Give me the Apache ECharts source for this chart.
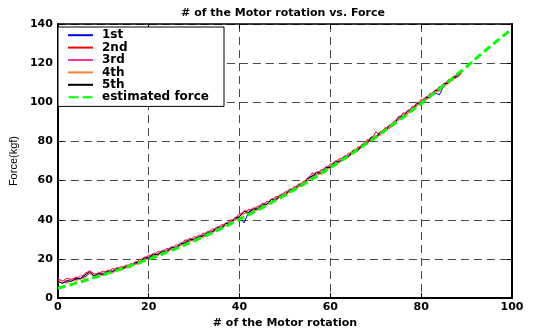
<!DOCTYPE html>
<html>
<head>
<meta charset="utf-8">
<script src="https://cdn.jsdelivr.net/npm/echarts@6/dist/echarts.min.js"></script>
<style>html,body{margin:0;padding:0;background:#fff;}#c{width:534px;height:334px;}</style>
</head>
<body>
<div id="c"></div>
<script>
var rotations = [0,1,2,3,4,5,6,7,8,9,10,11,12,13,14,15,16,17,18,19,20,21,22,23,24,25,26,27,28,29,30,31,32,33,34,35,36,37,38,39,40,41,42,43,44,45,46,47,48,49,50,51,52,53,54,55,56,57,58,59,60,61,62,63,64,65,66,67,68,69,70,71,72,73,74,75,76,77,78,79,80,81,82,83,84,85,86,87,88,89];
var run1st = [8.2,7.8,8.1,8.8,9.5,10.1,11.0,12.6,11.4,11.8,12.4,13.0,13.7,14.3,15.0,15.6,16.4,17.3,18.4,19.6,20.7,21.6,22.4,23.2,24.0,25.0,25.8,26.9,28.3,29.2,30.0,30.8,31.8,32.8,34.0,35.0,36.1,37.2,38.5,39.8,41.4,38.4,43.9,44.8,45.7,47.0,48.1,49.3,50.5,51.6,52.8,54.3,55.5,56.9,58.1,60.1,62.3,63.1,64.2,65.7,67.1,68.6,69.9,71.1,72.6,74.2,75.7,77.3,79.2,81.0,82.1,83.7,85.5,87.1,88.9,91.2,93.1,94.5,96.3,98.3,100.1,101.4,103.0,104.9,103.8,108.3,110.2,111.7,113.4,115.0];
var run2nd = [9.9,8.6,10.1,9.4,10.8,10.0,12.7,13.9,12.4,12.5,13.8,13.4,15.0,14.6,16.2,15.6,17.6,17.4,19.8,19.9,22.0,21.6,23.8,23.2,25.4,25.0,27.2,26.8,29.8,29.1,31.4,30.6,33.3,32.6,35.4,34.9,37.6,37.0,40.0,39.6,43.2,43.1,45.4,44.6,47.1,46.8,49.5,49.0,52.0,51.4,54.3,54.1,57.0,56.6,59.6,59.9,64.0,62.8,65.7,65.2,68.6,68.2,71.4,70.6,74.1,73.8,77.2,76.9,80.8,80.6,84.9,83.2,87.0,86.6,90.4,90.8,94.6,94.0,97.8,97.8,101.6,100.9,104.6,104.4,108.1,107.9,111.7,111.2,115.0,114.6];
var run3rd = [9.2,9.0,8.7,10.1,9.9,11.4,11.6,14.0,12.0,13.1,12.8,14.3,14.0,15.6,15.3,16.9,16.8,18.6,18.9,21.0,21.3,22.9,22.8,24.5,24.6,26.3,26.2,28.2,28.9,30.5,30.4,32.1,32.4,34.1,34.5,36.4,36.7,38.5,39.1,41.2,42.4,44.7,44.5,46.1,46.3,48.4,48.6,50.7,51.1,53.0,53.5,55.7,56.1,58.3,58.8,61.6,63.2,64.5,64.9,67.1,67.8,70.0,70.6,72.5,73.3,75.6,76.4,78.7,80.0,82.4,82.8,85.1,86.2,88.5,89.6,92.7,93.8,95.9,97.0,99.7,100.8,102.8,103.8,106.3,107.3,109.8,110.9,113.1,114.2,116.3];
var run4th = [7.8,8.1,7.6,8.9,8.7,9.9,10.2,12.9,10.6,11.9,11.5,13.0,12.7,14.3,14.0,15.5,15.5,17.3,17.4,19.7,19.9,21.6,21.4,23.2,23.1,25.0,24.8,26.9,27.5,29.1,29.1,30.8,30.9,32.8,33.0,35.1,35.2,37.2,37.6,39.9,40.8,43.4,43.0,44.8,44.8,47.1,47.1,49.4,49.6,51.7,51.9,54.4,54.6,57.0,57.2,60.3,61.6,63.2,63.3,65.8,66.2,68.7,69.0,71.2,71.7,74.3,74.8,77.4,78.4,81.1,81.2,83.8,84.6,87.2,88.0,91.4,92.2,94.6,95.4,98.4,99.2,101.5,102.2,105.0,105.7,108.5,109.3,111.8,112.6,115.0];
var run5th = [8.5,7.6,8.9,8.6,10.2,9.8,11.9,13.4,11.2,12.6,12.1,13.9,13.3,15.2,14.7,16.4,16.1,18.1,18.2,20.5,20.6,22.5,22.1,24.0,23.8,25.9,25.5,27.8,28.1,30.1,29.7,31.6,31.7,33.7,33.6,36.0,35.8,38.1,38.2,40.8,41.6,44.3,43.7,45.6,45.5,48.0,47.8,50.3,50.2,52.6,52.5,55.3,55.2,57.9,57.9,61.2,62.3,64.1,63.9,66.7,66.8,69.6,69.6,72.1,72.3,75.2,75.4,78.3,79.0,82.0,81.8,84.7,85.2,88.1,88.6,92.3,92.8,95.5,96.0,99.3,99.8,102.4,102.8,105.9,106.3,109.4,109.9,112.7,113.2,115.9];
var estRotations = [0,5,10,15,20,25,30,35,40,45,50,55,60,65,70,75,80,85,90,95,100];
var estForce = [5.0,8.3,11.9,15.7,19.8,24.3,29.2,34.5,40.2,46.2,52.6,59.4,66.6,74.2,82.2,90.6,99.4,108.6,118.2,128.2,137.5];
var seriesNames = ['1st','2nd','3rd','4th','5th','estimated force'];
var xTicks = [0,20,40,60,80,100];
var yTicks = [0,20,40,60,80,100,120,140];

function pairs(xs, ys){ var out=[]; for (var i=0;i<ys.length && i<xs.length;i++) out.push([xs[i], ys[i]]); return out; }

var BOLD = '"DejaVu Sans", Verdana, sans-serif';
var REG = '"Liberation Sans", Arial, sans-serif';
var chart = echarts.init(document.getElementById('c'), null, {renderer:'canvas'});
var runs = [run1st, run2nd, run3rd, run4th, run5th];
var colors = ['#0000ff','#ff0000','#ff3399','#ff8033','#000000','#00ff00'];
var solidIcon = 'path://M0,0H25V2H0Z';
var dashIcon = 'path://M0,0H10V2H0Z M14,0H24V2H14Z';

var series = runs.map(function(r, i){
  return {
    name: seriesNames[i], type:'line', xAxisIndex:0, yAxisIndex:0,
    data: pairs(rotations, r), showSymbol:false, symbol:'none',
    lineStyle:{color:colors[i], width:1}, itemStyle:{color:colors[i]},
    silent:true
  };
});
series.push({
  name: seriesNames[5], type:'line', xAxisIndex:0, yAxisIndex:0,
  data: pairs(estRotations, estForce), showSymbol:false, symbol:'none',
  lineStyle:{color:colors[5], width:3, type:[8,4]}, itemStyle:{color:colors[5]},
  silent:true
});

var labelStyle = {color:'#000', fontFamily:BOLD, fontWeight:'bold', fontSize:11};
var gridLine = {show:true, lineStyle:{color:'#4a4a4a', width:1, type:[8,5]}};
chart.setOption({
  animation:false,
  backgroundColor:'#fff',
  grid:{left:54, right:22, top:24, bottom:34, containLabel:false},
  graphic:[{type:'text', x:283, y:13, style:{text:'# of the Motor rotation vs. Force', textAlign:'center', textVerticalAlign:'middle', font:'bold 11px ' + BOLD, fill:'#000'}}],
  legend:{
    orient:'vertical', left:58, top:27,
    data: seriesNames.map(function(n, i){ return {name:n, icon: i===5 ? dashIcon : solidIcon}; }),
    itemWidth:25, itemHeight:2, itemGap:0,
    padding:[2,15,3,10],
    borderColor:'#000', borderWidth:1, backgroundColor:'#fff',
    textStyle:{color:'#000', fontFamily:BOLD, fontWeight:'bold', fontSize:12, lineHeight:12.4, padding:[0,0,0,4]},
    selectedMode:false
  },
  xAxis:[{
    type:'value', position:'bottom', min:0, max:100, interval:20,
    name:'# of the Motor rotation', nameLocation:'middle', nameGap:15,
    nameTextStyle:{color:'#000', fontFamily:BOLD, fontWeight:'bold', fontSize:11},
    axisLine:{show:true, onZero:false, lineStyle:{color:'#000', width:2}},
    axisTick:{show:true, inside:true, length:5, lineStyle:{color:'#000'}},
    axisLabel:Object.assign({margin:4}, labelStyle),
    splitLine:gridLine
  },{
    type:'value', position:'top', min:0, max:100, interval:20,
    axisLine:{show:true, onZero:false, lineStyle:{color:'#000', width:1.5}},
    axisTick:{show:true, inside:true, length:5, lineStyle:{color:'#000'}},
    axisLabel:{show:false}, splitLine:{show:false}
  }],
  yAxis:[{
    type:'value', position:'left', min:0, max:140, interval:20,
    name:'Force(kgf)', nameLocation:'middle', nameGap:37, nameRotate:90,
    nameTextStyle:{color:'#000', fontFamily:REG, fontSize:11},
    axisLine:{show:true, onZero:false, lineStyle:{color:'#000', width:2}},
    axisTick:{show:true, inside:true, length:5, lineStyle:{color:'#000'}},
    axisLabel:Object.assign({margin:5}, labelStyle),
    splitLine:gridLine
  },{
    type:'value', position:'right', min:0, max:140, interval:20,
    axisLine:{show:true, onZero:false, lineStyle:{color:'#000', width:2}},
    axisTick:{show:true, inside:true, length:5, lineStyle:{color:'#000'}},
    axisLabel:{show:false}, splitLine:{show:false}
  }],
  series: series
});
</script>
</body>
</html>
